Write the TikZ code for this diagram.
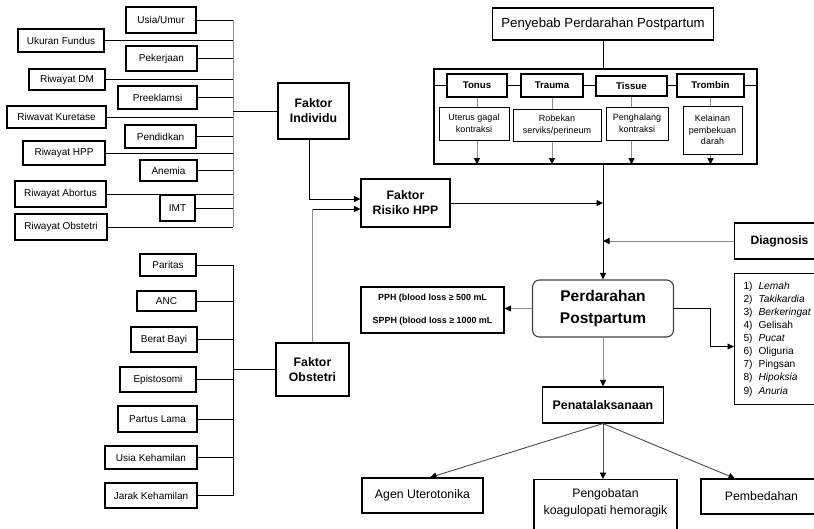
\documentclass[tikz,border=0pt]{standalone}
\usepackage{fontspec}
\setmainfont{Liberation Sans}
\usetikzlibrary{arrows.meta}

\newcommand{\itemno}[1]{\makebox[15pt][l]{#1}}

\begin{document}
\begin{tikzpicture}[x=1pt,y=-1pt,
    box/.style={draw,line width=1.1pt,inner sep=0pt,align=center,font=\fontsize{10}{12}\selectfont},
    wh/.style 2 args={minimum width=#1pt,minimum height=#2pt},
    faktor/.style={box,font=\fontsize{12.3}{15}\selectfont\bfseries},
    head/.style={box,font=\fontsize{9.7}{11}\selectfont\bfseries},
    sub/.style={box,line width=1pt,font=\fontsize{9}{11.5}\selectfont},
    big/.style={box,font=\fontsize{12.3}{17}\selectfont},
    link/.style={line width=0.9pt},
    soft/.style={line width=0.9pt,black!45},
    tip/.style={-{Triangle[length=6.5pt,width=6pt,color=black]}}]
    \clip (0,0) rectangle (814,528);

    % faktor individu
    \node[box,wh={70}{26}] (usia) at (161,20) {Usia/Umur};
    \node[box,wh={86}{23}] (ukuran) at (61,40.5) {Ukuran Fundus};
    \node[box,wh={71}{25}] (pekerjaan) at (161.5,58.5) {Pekerjaan};
    \node[box,wh={76}{21}] (dm) at (67,79.5) {Riwayat DM};
    \node[box,wh={79}{23}] (preeklamsi) at (157.5,97.5) {Preeklamsi};
    \node[box,wh={99}{22}] (kuretase) at (56.5,117) {Riwavat Kuretase};
    \node[box,wh={71}{23}] (pendidkan) at (160.5,136.5) {Pendidkan};
    \node[box,wh={82}{24}] (hpp) at (64,153) {Riwayat HPP};
    \node[box,wh={57}{21}] (anemia) at (168.5,170.5) {Anemia};
    \node[box,wh={91}{26}] (abortus) at (60.5,194) {Riwayat Abortus};
    \node[box,wh={35}{26}] (imt) at (177.5,208) {IMT};
    \node[box,wh={92}{26}] (robstetri) at (61,227) {Riwayat Obstetri};
    \node[faktor,wh={71}{56}] (fi) at (313.5,111) {Faktor\\Individu};

    \coordinate (busI) at (233,0);
    \draw[soft] (usia.east -| busI) -- (robstetri.east -| busI);
    \foreach \n in {usia,ukuran,pekerjaan,dm,preeklamsi,kuretase,pendidkan,hpp,anemia,abortus,imt,robstetri}
        \draw[link] (\n.east) -- (\n.east -| busI);
    \draw[link] (fi.west -| busI) -- (fi.west);

    % faktor obstetri
    \node[box,wh={56}{22}] (paritas) at (168,265) {Paritas};
    \node[box,wh={59}{20}] (anc) at (166.5,301) {ANC};
    \node[box,wh={66}{25}] (berat) at (164,339.5) {Berat Bayi};
    \node[box,wh={76}{25}] (episto) at (158,379.5) {Epistosomi};
    \node[box,wh={79}{26}] (partus) at (157.5,419) {Partus Lama};
    \node[box,wh={92}{23}] (usiak) at (151,457.5) {Usia Kehamilan};
    \node[box,wh={92}{25}] (jarak) at (151,495.5) {Jarak Kehamilan};
    \node[faktor,wh={73}{53}] (fo) at (312.5,369.5) {Faktor\\Obstetri};

    \coordinate (busO) at (233,0);
    \draw[link] (paritas.east -| busO) -- (jarak.east -| busO);
    \foreach \n in {paritas,anc,berat,episto,partus,usiak,jarak}
        \draw[link] (\n.east) -- (\n.east -| busO);
    \draw[link] (fo.west -| busO) -- (fo.west);

    \node[faktor,wh={89}{48}] (fr) at (405.5,203) {Faktor\\Risiko HPP};
    \draw[link,tip] ([xshift=-4.5pt]fi.south) |- ([yshift=4pt]fr.west);
    \coordinate (frlow) at ([yshift=-6pt]fr.west);
    \draw[soft] (fo.north) -- (fo.north |- frlow);
    \draw[link,tip] (fo.north |- frlow) -- (frlow);

    % penyebab
    \node[box,wh={221}{32},font=\fontsize{13.2}{15}\selectfont] (pny) at (603,24) {Penyebab Perdarahan Postpartum};
    \node[box,wh={323}{95}] (sebab) at (595.5,116.5) {};
    \node[head,fill=white,wh={60}{23}] (tonus) at (477,85.5) {Tonus};
    \node[head,fill=white,wh={62}{23}] (trauma) at (552,85.5) {Trauma};
    \node[head,fill=white,wh={71}{20}] (tissue) at (631.5,86) {Tissue};
    \node[head,fill=white,wh={67}{23}] (trombin) at (710.5,85.5) {Trombin};
    \node[sub,wh={70}{33}] (uterus) at (474,123.5) {Uterus gagal\\kontraksi};
    \node[sub,wh={88}{32}] (robekan) at (557,125) {Robekan\\serviks/perineum};
    \node[sub,wh={62}{33}] (penghalang) at (637,123.5) {Penghalang\\kontraksi};
    \node[sub,wh={59}{48}] (kelainan) at (712.5,130) {Kelainan\\pembekuan\\darah};

    \draw[link] (sebab.west |- tonus.west) -- (tonus.west) (tonus.east) -- (trauma.west)
        (trauma.east) -- (tissue.west |- trauma.east) (tissue.east |- trombin.west) -- (trombin.west)
        (trombin.east) -- (sebab.east |- trombin.east);
    \foreach \a/\b in {tonus/uterus,trauma/robekan,tissue/penghalang,trombin/kelainan}{
        \draw[soft] (\a.south) -- (\a.south |- \b.north);
        \draw[soft,tip] (\a.south |- \b.south) -- (\a.south |- sebab.south);
    }

    % perdarahan
    \node[box,wh={141}{57},rounded corners=7pt,draw=black!75,font=\fontsize{15.5}{22}\selectfont\bfseries] (perd) at (603,308.5) {Perdarahan\\Postpartum};
    \draw[link] (pny.south) -- (pny.south |- sebab.north);
    \draw[link,tip] (pny.south |- sebab.south) -- (perd.north);
    \draw[link,tip] (fr.east) -- (fr.east -| perd.north);

    \node[box,wh={90}{36},anchor=west,font=\fontsize{12.1}{14}\selectfont\bfseries] (diag) at (734,241) {Diagnosis};
    \draw[soft,tip] (diag.west) -- (diag.west -| perd.north);

    \node[box,wh={143}{46},font=\fontsize{8.9}{23}\selectfont\bfseries] (pph) at (432.5,310) {PPH (blood loss ≥ 500 mL\\SPPH (blood loss ≥ 1000 mL};
    \draw[soft,tip] (perd.west) -- (perd.west -| pph.east);

    \node[box,minimum height=131pt,text width=72pt,inner xsep=9pt,anchor=north west,align=left,font=\fontsize{10.2}{13.1}\selectfont] (gejala) at (734,273)
        {\itemno{1)}\textit{Lemah}\\ \itemno{2)}\textit{Takikardia}\\ \itemno{3)}\textit{Berkeringat}\\
         \itemno{4)}Gelisah\\ \itemno{5)}\textit{Pucat}\\ \itemno{6)}Oliguria\\
         \itemno{7)}Pingsan\\ \itemno{8)}\textit{Hipoksia}\\ \itemno{9)}\textit{Anuria}};
    \draw[link,tip] (perd.east) -| ([xshift=-24pt,yshift=-7.5pt]gejala.west) -- ([yshift=-7.5pt]gejala.west);

    % penatalaksanaan
    \node[box,wh={121}{36},font=\fontsize{12.4}{15}\selectfont\bfseries] (pen) at (603,405) {Penatalaksanaan};
    \draw[soft,tip] (perd.south) -- (pen.north);

    \node[big,wh={121}{35}] (agen) at (422.5,495.5) {Agen Uterotonika};
    \node[big,minimum width=143pt,anchor=north,inner ysep=9.5pt,text depth=20pt] (peng) at (605.5,479) {Pengobatan\\koagulopati hemoragik};
    \node[big,wh={121}{35}] (pemb) at (761.5,496.5) {Pembedahan};
    \draw[link,black!70,tip] (pen.south) -- ([xshift=7.5pt]agen.north);
    \draw[link,black!70,tip] (pen.south) -- (pen.south |- peng.north);
    \draw[link,black!70,tip] (pen.south) -- ([xshift=-26.5pt]pemb.north);
\end{tikzpicture}
\end{document}
